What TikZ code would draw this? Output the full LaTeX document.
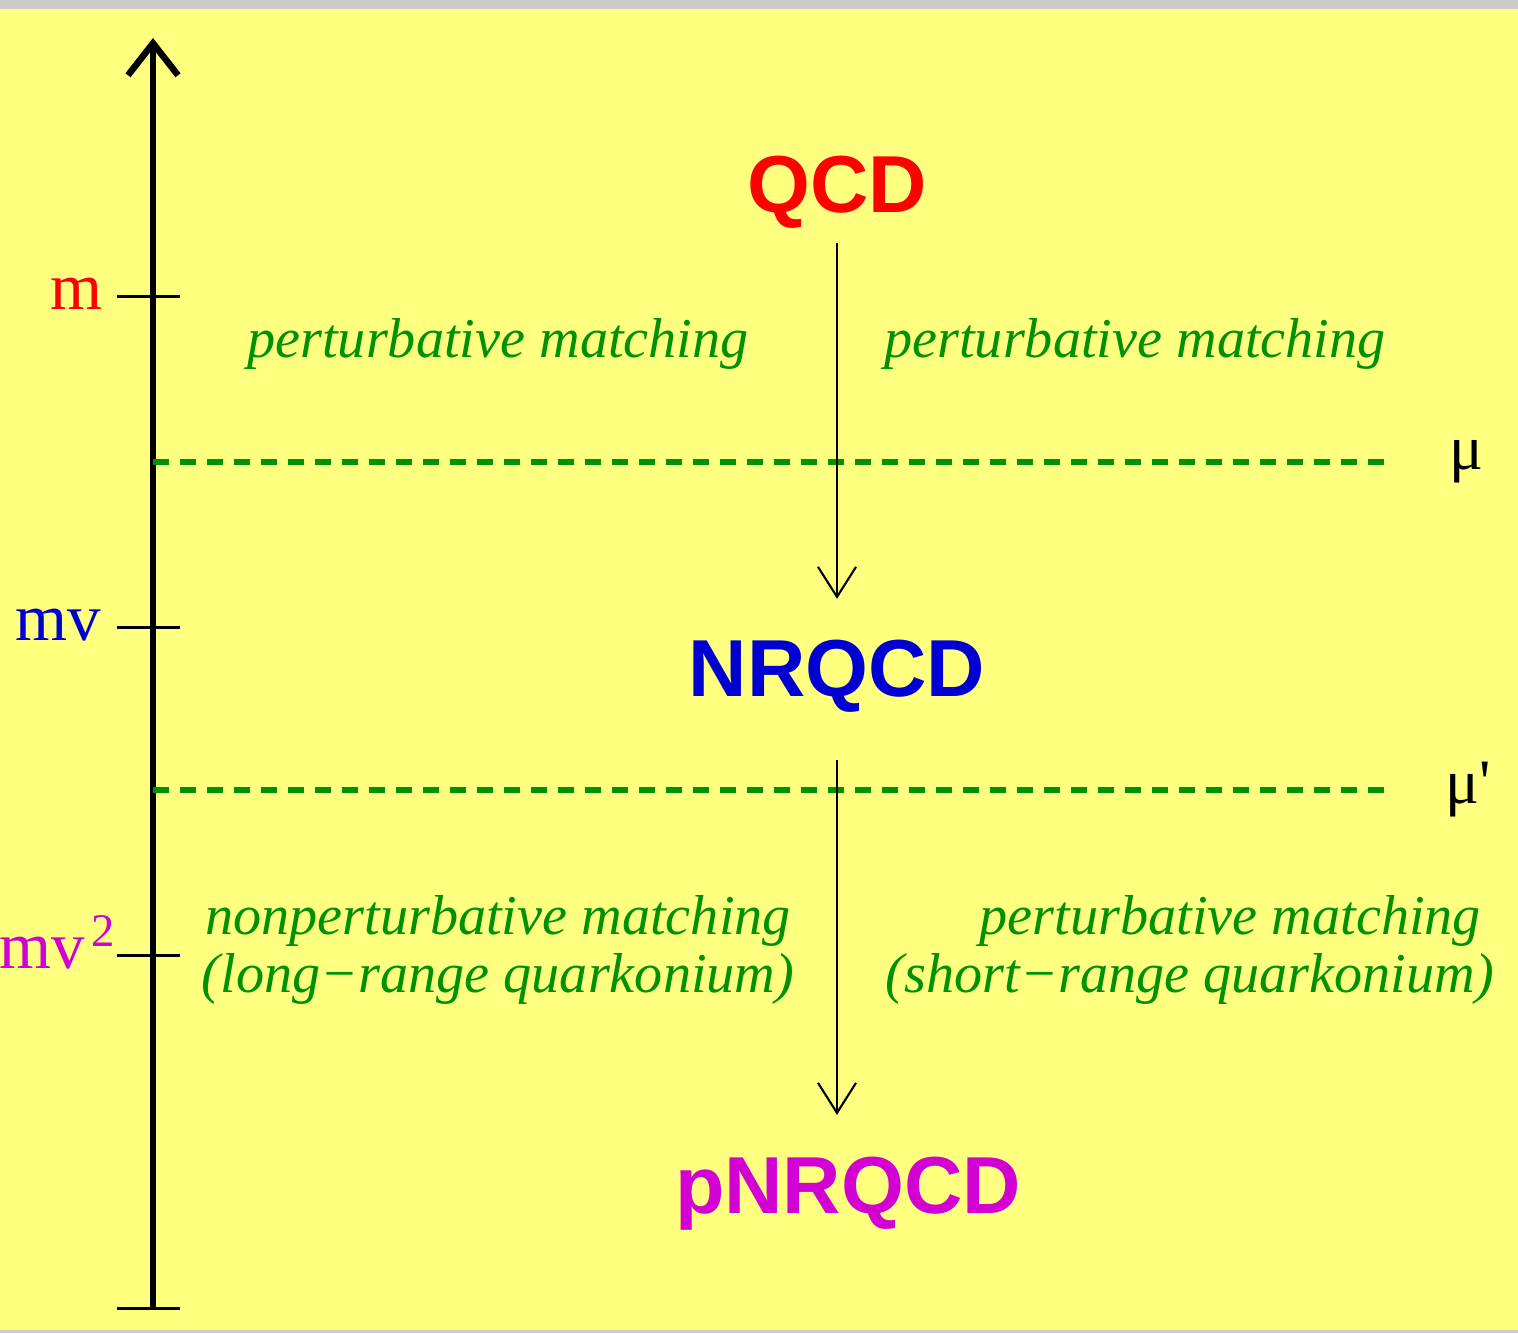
\documentclass[tikz,border=0pt]{standalone}
\usepackage{fontspec}
\setmainfont{Liberation Serif}
\newfontfamily\headfont{Liberation Sans}
\usetikzlibrary{arrows.meta}
\definecolor{pad}{RGB}{255,255,128}
\definecolor{frame}{RGB}{205,203,198}
\definecolor{mgreen}{RGB}{0,145,0}
\definecolor{mblue}{RGB}{0,0,210}
\definecolor{mmag}{RGB}{210,0,210}
\begin{document}
\begin{tikzpicture}[
  theory/.style={font=\headfont\bfseries\fontsize{23}{26}\selectfont, inner sep=0pt, anchor=base},
  remark/.style={font=\itshape\fontsize{16}{16.5}\selectfont, text=mgreen, inner sep=0pt},
  scalelab/.style={font=\fontsize{19}{21}\selectfont, inner sep=0pt, anchor=base east},
  cut/.style={mgreen, line width=0.055cm, dash pattern=on 0.16cm off 0.11cm},
  flow/.style={line width=0.6pt, -{Straight Barb[length=3mm,width=3.8mm]}}
]
\fill[frame] (0,0) rectangle (15.18,13.33);
\fill[pad] (0,0.03) rectangle (15.18,13.24);
\useasboundingbox (0,0) rectangle (15.18,13.33);
% energy axis
\draw[line width=0.065cm, -{Straight Barb[length=3.2mm,width=5mm]}] (1.53,0.25) -- (1.53,12.95);
\draw[line width=0.03cm] (1.17,0.25) -- (1.80,0.25);
\foreach \y/\x/\lab/\col/\n in {10.36/1.03/m/red/m, 7.05/1.02/mv/mblue/mv, 3.77/1.17/mv\kern0.06cm\textsuperscript{2}/mmag/mvv}{
  \draw[line width=0.03cm] (1.17,\y) -- (1.80,\y);
  \node[scalelab, text=\col] (\n) at (\x,\y-0.125) {\lab};
}
% matching scales
\node[font=\fontsize{18}{20}\selectfont, inner sep=0pt] (mu) at (14.66,8.71) {μ};
\node[font=\fontsize{18}{20}\selectfont, inner sep=0pt] (mup) at (14.68,5.43) {μ\textquotesingle};
\draw[cut] (1.53,8.71) -- (13.85,8.71);
\draw[cut] (1.53,5.43) -- (13.85,5.43);
% theories
\node[theory, text=red] (qcd) at (8.37,11.20) {QCD};
\node[theory, text=mblue] (nrqcd) at (8.37,6.36) {NRQCD};
\node[theory, text=mmag] (pnrqcd) at (8.48,1.20) {pNRQCD};
\draw[flow, shorten <=0.30cm, shorten >=0.41cm] (qcd.base) -- (nrqcd.north);
\draw[flow, shorten <=0.63cm, shorten >=0.41cm] (nrqcd.base) -- (nrqcd.base |- pnrqcd.north);
% remarks
\node[remark] (pml) at (4.98,9.89) {perturbative matching};
\node[remark] (pmr) at (11.35,9.89) {perturbative matching};
\node[remark, align=center] (npl) at (4.98,3.83) {nonperturbative matching\\(long−range quarkonium)};
\node[remark, align=right] (psr) at (11.90,3.83) {perturbative matching\kern0.13cm\\(short−range quarkonium)};
\end{tikzpicture}
\end{document}
